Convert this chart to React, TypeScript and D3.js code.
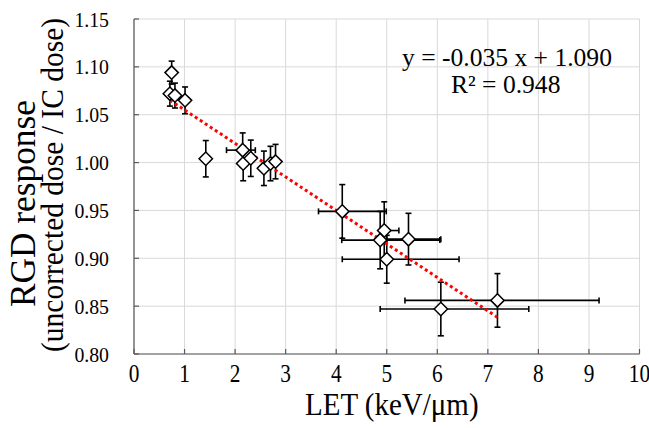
import React from "react";
import * as d3 from "d3";

const xVals = [0.745, 0.71, 0.81, 1.01, 1.42, 2.15, 2.16, 2.31, 2.57, 2.70, 2.80, 4.12, 4.95, 4.87, 5.43, 5.00, 6.07, 7.19];
const yVals = [1.094, 1.072, 1.070, 1.065, 1.004, 1.013, 0.999, 1.0045, 0.994, 0.999, 1.001, 0.949, 0.929, 0.919, 0.920, 0.899, 0.847, 0.856];
const yErr = [0.012, 0.013, 0.013, 0.014, 0.019, 0.018, 0.018, 0.019, 0.018, 0.018, 0.018, 0.028, 0.03, 0.03, 0.027, 0.025, 0.028, 0.028];
const xErrLo = [0, 0, 0, 0, 0, 0.32, 0, 0, 0, 0, 0, 0.47, 0.08, 0.76, 0.43, 0.88, 1.2, 1.83];
const xErrHi = [0, 0, 0, 0, 0, 0.25, 0, 0, 0, 0, 0, 0.87, 0.29, 1.18, 0.64, 1.43, 1.74, 2.01];
const xTicks = [0, 1, 2, 3, 4, 5, 6, 7, 8, 9, 10];
const yTicks = [0.8, 0.85, 0.9, 0.95, 1.0, 1.05, 1.1, 1.15];
const slope = -0.035;
const intercept = 1.09;
const eqLine1 = "y = -0.035 x + 1.090";
const eqLine2 = "R² = 0.948";
const xTitle = "LET (keV/μm)";
const yTitle1 = "RGD response";
const yTitle2 = "(uncorrected dose / IC dose)";

const W = 649, H = 428;
const L = 134, R = 639.5, T = 19, B = 354;
const font = "'Liberation Serif', 'Times New Roman', serif";

export default function App() {
  const x = d3.scaleLinear().domain([0, 10]).range([L, R]);
  const y = d3.scaleLinear().domain([0.8, 1.15]).range([B, T]);
  const xmin = d3.min(xVals)!, xmax = d3.max(xVals)!;
  const line = d3.line<number>().x(v => x(v)).y(v => y(slope * v + intercept));
  const cap = 3;
  const ds = 6.7;
  return (
    <svg width={W} height={H} style={{ position: "absolute", left: 0, top: 0, background: "#fff", fontFamily: font }}>
      <rect x={0} y={0} width={W} height={H} fill="#fff" />
      {xTicks.map(t => (
        <line key={"gx" + t} x1={x(t)} x2={x(t)} y1={T} y2={B} stroke="#d9d9d9" strokeWidth={1} />
      ))}
      {yTicks.map(t => (
        <line key={"gy" + t} x1={L} x2={R} y1={y(t)} y2={y(t)} stroke="#d9d9d9" strokeWidth={1} />
      ))}
      <line x1={L} x2={L} y1={T} y2={B} stroke="#595959" strokeWidth={1.2} />
      <line x1={L} x2={R} y1={B} y2={B} stroke="#595959" strokeWidth={1.2} />
      {yTicks.map(t => (
        <line key={"ty" + t} x1={L} x2={L + 5} y1={y(t)} y2={y(t)} stroke="#595959" strokeWidth={1.2} />
      ))}
      {xTicks.map(t => (
        <line key={"tx" + t} x1={x(t)} x2={x(t)} y1={B} y2={B - 5} stroke="#595959" strokeWidth={1.2} />
      ))}
      {yTicks.map(t => (
        <text key={"ly" + t} transform={`translate(109,${y(t) + 7.5}) scale(0.9,1)`} textAnchor="end" fontSize={22} fill="#000">
          {d3.format(".2f")(t)}
        </text>
      ))}
      {xTicks.map(t => (
        <text key={"lx" + t} transform={`translate(${x(t)},381.5) scale(0.87,1)`} textAnchor="middle" fontSize={24.5} fill="#000">
          {t}
        </text>
      ))}
      {xVals.map((xv, i) => {
        const cx = x(xv), cy = y(yVals[i]);
        const y1 = y(yVals[i] + yErr[i]), y2 = y(yVals[i] - yErr[i]);
        const xl = x(xv - xErrLo[i]), xh = x(xv + xErrHi[i]);
        return (
          <g key={"e" + i} stroke="#000" strokeWidth={1.6} fill="none">
            <line x1={cx} x2={cx} y1={y1} y2={y2} />
            <line x1={cx - cap} x2={cx + cap} y1={y1} y2={y1} />
            <line x1={cx - cap} x2={cx + cap} y1={y2} y2={y2} />
            {xErrLo[i] + xErrHi[i] > 0 && (
              <>
                <line x1={xl} x2={xh} y1={cy} y2={cy} />
                <line x1={xl} x2={xl} y1={cy - cap} y2={cy + cap} />
                <line x1={xh} x2={xh} y1={cy - cap} y2={cy + cap} />
              </>
            )}
          </g>
        );
      })}
      <path d={line([xmin, xmax]) || ""} stroke="#ff0000" strokeWidth={3} strokeDasharray="3 3" fill="none" />
      {xVals.map((xv, i) => {
        const cx = x(xv), cy = y(yVals[i]);
        return (
          <path key={"d" + i} d={`M${cx},${cy - ds}L${cx + ds},${cy}L${cx},${cy + ds}L${cx - ds},${cy}Z`}
            fill="#fff" stroke="#000" strokeWidth={1.5} />
        );
      })}
      <text transform="translate(402,65.5) scale(1.04,1)" fontSize={24.6} fill="#000">{eqLine1}</text>
      <text transform="translate(451,93) scale(1.04,1)" fontSize={24.6} fill="#000">{eqLine2}</text>
      <text transform="translate(305,415) scale(1,1.12)" fontSize={29} fill="#000">{xTitle}</text>
      <text transform="translate(35,307) rotate(-90)" fontSize={35.3} fill="#000">{yTitle1}</text>
      <text transform="translate(63,352) rotate(-90) scale(1,1.08)" fontSize={29.5} fill="#000">{yTitle2}</text>
    </svg>
  );
}
